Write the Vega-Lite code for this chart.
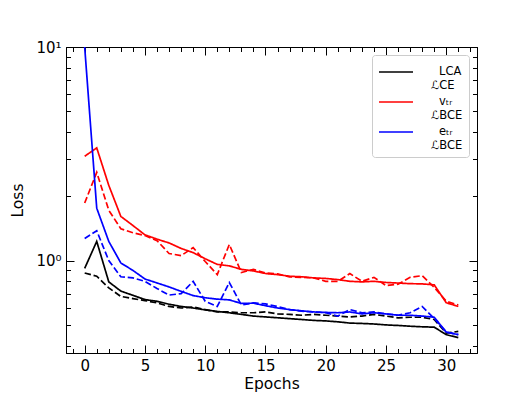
{
  "$schema": "https://vega.github.io/schema/vega-lite/v6.json",
  "autosize": {"type": "none"},
  "width": 411,
  "height": 306,
  "padding": {"left": 66, "top": 47, "right": 53, "bottom": 44},
  "background": "white",
  "config": {
    "font": "DejaVu Sans",
    "view": {"stroke": "black", "strokeWidth": 1},
    "axis": {
      "labelFont": "DejaVu Sans", "titleFont": "DejaVu Sans",
      "labelFontSize": 15, "titleFontSize": 15.5, "titleFontWeight": "normal",
      "labelColor": "black", "titleColor": "black", "tickColor": "black",
      "domainColor": "black", "grid": false, "tickWidth": 1, "domainWidth": 1
    },
    "legend": {
      "labelFont": "DejaVu Sans"
    }
  },
  "data": {"values": [
    {"e":0,"s":"ce","d":"solid","v":0.92},{"e":1,"s":"ce","d":"solid","v":1.23},{"e":2,"s":"ce","d":"solid","v":0.795},{"e":3,"s":"ce","d":"solid","v":0.72},{"e":4,"s":"ce","d":"solid","v":0.688},{"e":5,"s":"ce","d":"solid","v":0.657},{"e":6,"s":"ce","d":"solid","v":0.645},{"e":7,"s":"ce","d":"solid","v":0.625},{"e":8,"s":"ce","d":"solid","v":0.61},{"e":9,"s":"ce","d":"solid","v":0.6},{"e":10,"s":"ce","d":"solid","v":0.588},{"e":11,"s":"ce","d":"solid","v":0.578},{"e":12,"s":"ce","d":"solid","v":0.57},{"e":13,"s":"ce","d":"solid","v":0.56},{"e":14,"s":"ce","d":"solid","v":0.55},{"e":15,"s":"ce","d":"solid","v":0.545},{"e":16,"s":"ce","d":"solid","v":0.54},{"e":17,"s":"ce","d":"solid","v":0.535},{"e":18,"s":"ce","d":"solid","v":0.53},{"e":19,"s":"ce","d":"solid","v":0.525},{"e":20,"s":"ce","d":"solid","v":0.522},{"e":21,"s":"ce","d":"solid","v":0.517},{"e":22,"s":"ce","d":"solid","v":0.51},{"e":23,"s":"ce","d":"solid","v":0.508},{"e":24,"s":"ce","d":"solid","v":0.505},{"e":25,"s":"ce","d":"solid","v":0.5},{"e":26,"s":"ce","d":"solid","v":0.497},{"e":27,"s":"ce","d":"solid","v":0.493},{"e":28,"s":"ce","d":"solid","v":0.49},{"e":29,"s":"ce","d":"solid","v":0.488},{"e":30,"s":"ce","d":"solid","v":0.45},{"e":31,"s":"ce","d":"solid","v":0.436},
    {"e":0,"s":"ce","d":"dashed","v":0.875},{"e":1,"s":"ce","d":"dashed","v":0.845},{"e":2,"s":"ce","d":"dashed","v":0.745},{"e":3,"s":"ce","d":"dashed","v":0.68},{"e":4,"s":"ce","d":"dashed","v":0.664},{"e":5,"s":"ce","d":"dashed","v":0.65},{"e":6,"s":"ce","d":"dashed","v":0.634},{"e":7,"s":"ce","d":"dashed","v":0.61},{"e":8,"s":"ce","d":"dashed","v":0.6},{"e":9,"s":"ce","d":"dashed","v":0.607},{"e":10,"s":"ce","d":"dashed","v":0.59},{"e":11,"s":"ce","d":"dashed","v":0.575},{"e":12,"s":"ce","d":"dashed","v":0.575},{"e":13,"s":"ce","d":"dashed","v":0.57},{"e":14,"s":"ce","d":"dashed","v":0.57},{"e":15,"s":"ce","d":"dashed","v":0.575},{"e":16,"s":"ce","d":"dashed","v":0.563},{"e":17,"s":"ce","d":"dashed","v":0.56},{"e":18,"s":"ce","d":"dashed","v":0.555},{"e":19,"s":"ce","d":"dashed","v":0.56},{"e":20,"s":"ce","d":"dashed","v":0.555},{"e":21,"s":"ce","d":"dashed","v":0.55},{"e":22,"s":"ce","d":"dashed","v":0.545},{"e":23,"s":"ce","d":"dashed","v":0.55},{"e":24,"s":"ce","d":"dashed","v":0.56},{"e":25,"s":"ce","d":"dashed","v":0.55},{"e":26,"s":"ce","d":"dashed","v":0.54},{"e":27,"s":"ce","d":"dashed","v":0.543},{"e":28,"s":"ce","d":"dashed","v":0.543},{"e":29,"s":"ce","d":"dashed","v":0.53},{"e":30,"s":"ce","d":"dashed","v":0.458},{"e":31,"s":"ce","d":"dashed","v":0.466},
    {"e":0,"s":"v","d":"solid","v":3.08},{"e":1,"s":"v","d":"solid","v":3.37},{"e":2,"s":"v","d":"solid","v":2.25},{"e":3,"s":"v","d":"solid","v":1.61},{"e":4,"s":"v","d":"solid","v":1.46},{"e":5,"s":"v","d":"solid","v":1.32},{"e":6,"s":"v","d":"solid","v":1.26},{"e":7,"s":"v","d":"solid","v":1.21},{"e":8,"s":"v","d":"solid","v":1.14},{"e":9,"s":"v","d":"solid","v":1.09},{"e":10,"s":"v","d":"solid","v":1.02},{"e":11,"s":"v","d":"solid","v":0.96},{"e":12,"s":"v","d":"solid","v":0.945},{"e":13,"s":"v","d":"solid","v":0.91},{"e":14,"s":"v","d":"solid","v":0.895},{"e":15,"s":"v","d":"solid","v":0.87},{"e":16,"s":"v","d":"solid","v":0.86},{"e":17,"s":"v","d":"solid","v":0.845},{"e":18,"s":"v","d":"solid","v":0.84},{"e":19,"s":"v","d":"solid","v":0.83},{"e":20,"s":"v","d":"solid","v":0.825},{"e":21,"s":"v","d":"solid","v":0.815},{"e":22,"s":"v","d":"solid","v":0.8},{"e":23,"s":"v","d":"solid","v":0.795},{"e":24,"s":"v","d":"solid","v":0.8},{"e":25,"s":"v","d":"solid","v":0.79},{"e":26,"s":"v","d":"solid","v":0.785},{"e":27,"s":"v","d":"solid","v":0.78},{"e":28,"s":"v","d":"solid","v":0.778},{"e":29,"s":"v","d":"solid","v":0.77},{"e":30,"s":"v","d":"solid","v":0.635},{"e":31,"s":"v","d":"solid","v":0.61},
    {"e":0,"s":"v","d":"dashed","v":1.86},{"e":1,"s":"v","d":"dashed","v":2.59},{"e":2,"s":"v","d":"dashed","v":1.72},{"e":3,"s":"v","d":"dashed","v":1.41},{"e":4,"s":"v","d":"dashed","v":1.35},{"e":5,"s":"v","d":"dashed","v":1.31},{"e":6,"s":"v","d":"dashed","v":1.24},{"e":7,"s":"v","d":"dashed","v":1.08},{"e":8,"s":"v","d":"dashed","v":1.055},{"e":9,"s":"v","d":"dashed","v":1.15},{"e":10,"s":"v","d":"dashed","v":0.99},{"e":11,"s":"v","d":"dashed","v":0.86},{"e":12,"s":"v","d":"dashed","v":1.19},{"e":13,"s":"v","d":"dashed","v":0.88},{"e":14,"s":"v","d":"dashed","v":0.91},{"e":15,"s":"v","d":"dashed","v":0.875},{"e":16,"s":"v","d":"dashed","v":0.866},{"e":17,"s":"v","d":"dashed","v":0.84},{"e":18,"s":"v","d":"dashed","v":0.835},{"e":19,"s":"v","d":"dashed","v":0.83},{"e":20,"s":"v","d":"dashed","v":0.8},{"e":21,"s":"v","d":"dashed","v":0.8},{"e":22,"s":"v","d":"dashed","v":0.87},{"e":23,"s":"v","d":"dashed","v":0.8},{"e":24,"s":"v","d":"dashed","v":0.835},{"e":25,"s":"v","d":"dashed","v":0.764},{"e":26,"s":"v","d":"dashed","v":0.775},{"e":27,"s":"v","d":"dashed","v":0.835},{"e":28,"s":"v","d":"dashed","v":0.85},{"e":29,"s":"v","d":"dashed","v":0.75},{"e":30,"s":"v","d":"dashed","v":0.645},{"e":31,"s":"v","d":"dashed","v":0.62},
    {"e":0,"s":"e","d":"solid","v":10},{"e":1,"s":"e","d":"solid","v":1.76},{"e":2,"s":"e","d":"solid","v":1.23},{"e":3,"s":"e","d":"solid","v":0.975},{"e":4,"s":"e","d":"solid","v":0.9},{"e":5,"s":"e","d":"solid","v":0.82},{"e":6,"s":"e","d":"solid","v":0.786},{"e":7,"s":"e","d":"solid","v":0.753},{"e":8,"s":"e","d":"solid","v":0.718},{"e":9,"s":"e","d":"solid","v":0.686},{"e":10,"s":"e","d":"solid","v":0.67},{"e":11,"s":"e","d":"solid","v":0.66},{"e":12,"s":"e","d":"solid","v":0.655},{"e":13,"s":"e","d":"solid","v":0.63},{"e":14,"s":"e","d":"solid","v":0.632},{"e":15,"s":"e","d":"solid","v":0.615},{"e":16,"s":"e","d":"solid","v":0.6},{"e":17,"s":"e","d":"solid","v":0.59},{"e":18,"s":"e","d":"solid","v":0.582},{"e":19,"s":"e","d":"solid","v":0.575},{"e":20,"s":"e","d":"solid","v":0.572},{"e":21,"s":"e","d":"solid","v":0.57},{"e":22,"s":"e","d":"solid","v":0.575},{"e":23,"s":"e","d":"solid","v":0.563},{"e":24,"s":"e","d":"solid","v":0.57},{"e":25,"s":"e","d":"solid","v":0.563},{"e":26,"s":"e","d":"solid","v":0.555},{"e":27,"s":"e","d":"solid","v":0.555},{"e":28,"s":"e","d":"solid","v":0.55},{"e":29,"s":"e","d":"solid","v":0.543},{"e":30,"s":"e","d":"solid","v":0.463},{"e":31,"s":"e","d":"solid","v":0.45},
    {"e":0,"s":"e","d":"dashed","v":1.27},{"e":1,"s":"e","d":"dashed","v":1.38},{"e":2,"s":"e","d":"dashed","v":1.0},{"e":3,"s":"e","d":"dashed","v":0.84},{"e":4,"s":"e","d":"dashed","v":0.83},{"e":5,"s":"e","d":"dashed","v":0.8},{"e":6,"s":"e","d":"dashed","v":0.74},{"e":7,"s":"e","d":"dashed","v":0.69},{"e":8,"s":"e","d":"dashed","v":0.7},{"e":9,"s":"e","d":"dashed","v":0.8},{"e":10,"s":"e","d":"dashed","v":0.645},{"e":11,"s":"e","d":"dashed","v":0.61},{"e":12,"s":"e","d":"dashed","v":0.79},{"e":13,"s":"e","d":"dashed","v":0.62},{"e":14,"s":"e","d":"dashed","v":0.634},{"e":15,"s":"e","d":"dashed","v":0.627},{"e":16,"s":"e","d":"dashed","v":0.61},{"e":17,"s":"e","d":"dashed","v":0.59},{"e":18,"s":"e","d":"dashed","v":0.58},{"e":19,"s":"e","d":"dashed","v":0.575},{"e":20,"s":"e","d":"dashed","v":0.57},{"e":21,"s":"e","d":"dashed","v":0.55},{"e":22,"s":"e","d":"dashed","v":0.59},{"e":23,"s":"e","d":"dashed","v":0.57},{"e":24,"s":"e","d":"dashed","v":0.575},{"e":25,"s":"e","d":"dashed","v":0.563},{"e":26,"s":"e","d":"dashed","v":0.555},{"e":27,"s":"e","d":"dashed","v":0.57},{"e":28,"s":"e","d":"dashed","v":0.61},{"e":29,"s":"e","d":"dashed","v":0.535},{"e":30,"s":"e","d":"dashed","v":0.463},{"e":31,"s":"e","d":"dashed","v":0.45}
  ]},
  "resolve": {"axis": {"x": "independent", "y": "independent"}},
  "layer": [
    {
      "mark": {"type": "line", "strokeWidth": 1.7, "clip": true},
      "encoding": {
        "x": {"field": "e", "type": "quantitative",
              "scale": {"domain": [-1.55, 32.55], "nice": false, "zero": false},
              "axis": {"orient": "bottom", "values": [0,5,10,15,20,25,30], "tickSize": -8, "labelPadding": 13, "domain": true, "title": "Epochs", "titlePadding": 3}},
        "y": {"field": "v", "type": "quantitative",
              "scale": {"type": "log", "domain": [0.3694, 10], "nice": false},
              "axis": {"orient": "left", "values": [1, 10], "labelExpr": "datum.value == 1 ? '10⁰' : '10¹'", "tickSize": -8, "labelPadding": 13, "domain": true, "title": "Loss", "titlePadding": 10}},
        "color": {"field": "s", "type": "nominal",
                  "scale": {"domain": ["ce", "v", "e"], "range": ["#000000", "#ff0000", "#0000ff"]},
                  "legend": {"orient": "top-right", "offset": 8, "title": null, "symbolType": "M-1.7,0H1.7", "symbolSize": 400, "symbolStrokeWidth": 1.7, "symbolOffset": 7,
                             "strokeColor": "#cccccc", "fillColor": "white", "cornerRadius": 3, "padding": 6,
                             "labelFontSize": 11.5, "labelOffset": 24, "rowPadding": 0,
                             "labelExpr": "datum.value == 'ce' ? ['\u200b\u2002\u2009LCA', 'ℒCE'] : datum.value == 'v' ? ['\u200b\u2002\u2009vₜᵣ', 'ℒBCE'] : ['\u200b\u2002\u2009eₜᵣ', 'ℒBCE']"}},
        "strokeDash": {"field": "d", "type": "nominal",
                       "scale": {"domain": ["solid", "dashed"], "range": [[1, 0], [6.4, 2.8]]},
                       "legend": null},
        "detail": {"field": "d"}
      }
    },
    {
      "mark": {"type": "line", "opacity": 0},
      "encoding": {
        "x": {"field": "e", "type": "quantitative",
              "axis": {"orient": "bottom", "values": [-1,0,1,2,3,4,5,6,7,8,9,10,11,12,13,14,15,16,17,18,19,20,21,22,23,24,25,26,27,28,29,30,31,32], "tickSize": -4.5, "labels": false, "domain": false, "title": null}},
        "y": {"field": "v", "type": "quantitative",
              "axis": {"orient": "left", "values": [0.4,0.5,0.6,0.7,0.8,0.9,2,3,4,5,6,7,8,9], "tickSize": -4.5, "labels": false, "domain": false, "title": null}},
        "detail": {"field": "s"}
      }
    },
    {
      "mark": {"type": "line", "opacity": 0},
      "encoding": {
        "x": {"field": "e", "type": "quantitative",
              "axis": {"orient": "top", "values": [0,5,10,15,20,25,30], "tickSize": -8, "labels": false, "domain": true, "title": null}},
        "y": {"field": "v", "type": "quantitative",
              "axis": {"orient": "right", "values": [1, 10], "tickSize": -8, "labels": false, "domain": true, "title": null}},
        "detail": {"field": "s"}
      }
    },
    {
      "mark": {"type": "line", "opacity": 0},
      "encoding": {
        "x": {"field": "e", "type": "quantitative",
              "axis": {"orient": "top", "values": [-1,0,1,2,3,4,5,6,7,8,9,10,11,12,13,14,15,16,17,18,19,20,21,22,23,24,25,26,27,28,29,30,31,32], "tickSize": -4.5, "labels": false, "domain": false, "title": null}},
        "y": {"field": "v", "type": "quantitative",
              "axis": {"orient": "right", "values": [0.4,0.5,0.6,0.7,0.8,0.9,2,3,4,5,6,7,8,9], "tickSize": -4.5, "labels": false, "domain": false, "title": null}},
        "detail": {"field": "s"}
      }
    }
  ]
}
